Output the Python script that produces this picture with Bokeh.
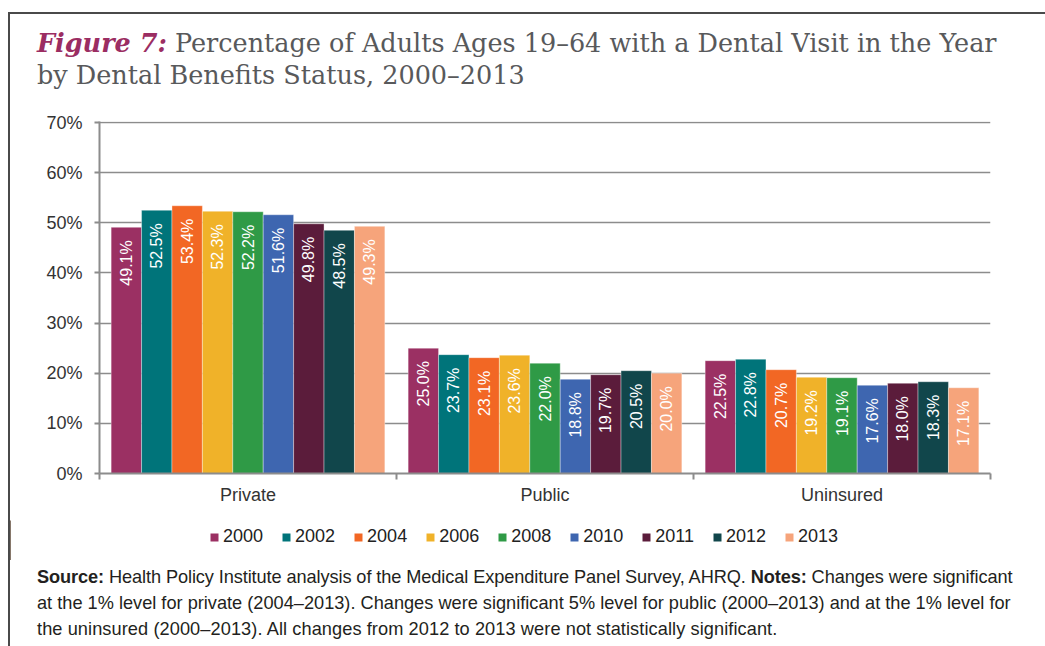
import numpy as np
from bokeh.plotting import figure
from bokeh.layouts import column, row
from bokeh.models import (ColumnDataSource, FixedTicker, PrintfTickFormatter,
                          Legend, LegendItem, Div)
from bokeh.core.properties import value
from bokeh.embed import file_html
from bokeh.resources import INLINE

# --- data -------------------------------------------------------------
categories = ["Private", "Public", "Uninsured"]
years = ["2000", "2002", "2004", "2006", "2008", "2010", "2011", "2012", "2013"]
private = [49.1, 52.5, 53.4, 52.3, 52.2, 51.6, 49.8, 48.5, 49.3]
public = [25.0, 23.7, 23.1, 23.6, 22.0, 18.8, 19.7, 20.5, 20.0]
uninsured = [22.5, 22.8, 20.7, 19.2, 19.1, 17.6, 18.0, 18.3, 17.1]
colors = ["#9B3063", "#00747A", "#F26724", "#F0B229", "#2F9A46",
          "#3E66B0", "#5B1C3B", "#11464B", "#F6A47B"]
y_ticks = [0, 10, 20, 30, 40, 50, 60, 70]

title_lead = "Figure 7:"
title_line1 = "Percentage of Adults Ages 19\u201364 with a Dental Visit in the Year"
title_line2 = "by Dental Benefits Status, 2000\u20132013"

# --- layout constants --------------------------------------------------
W = 1045
TITLE_H, FIG_H, KEY_H, NOTE_H = 110, 410, 40, 86
GUTTER = 10                      # strip on the left that carries the frame line
FIG_W = W - GUTTER
SANS = "Liberation Sans"
SERIF = "DejaVu Serif"
GRAY = "#8c8c8c"
RULE = "2px solid #4a4a4a"

# --- chart -------------------------------------------------------------
p = figure(width=FIG_W, height=FIG_H, x_range=(-0.5, 2.5), y_range=(0, 70.2),
           output_backend="svg", toolbar_location=None, title=None,
           min_border_left=89, min_border_right=55,
           min_border_top=11, min_border_bottom=47)
p.outline_line_color = None
p.background_fill_color = "white"
p.border_fill_color = "white"

xax = p.xaxis[0]
xax.ticker = FixedTicker(ticks=[0, 1, 2], minor_ticks=[-0.5, 0.5, 1.5, 2.5])
xax.major_label_overrides = {i: c for i, c in enumerate(categories)}
xax.major_tick_out = 0
xax.major_tick_in = 0
xax.minor_tick_out = 6
xax.minor_tick_in = 0
xax.minor_tick_line_color = GRAY
xax.minor_tick_line_width = 2
xax.axis_line_color = GRAY
xax.axis_line_width = 2
xax.major_label_standoff = 5
xax.major_label_text_font = SANS
xax.major_label_text_font_size = "18px"
xax.major_label_text_color = "#333333"

yticker = FixedTicker(ticks=y_ticks)
yax = p.yaxis[0]
yax.ticker = yticker
yax.formatter = PrintfTickFormatter(format="%d%%")
yax.major_tick_out = 5
yax.major_tick_in = 0
yax.major_tick_line_color = GRAY
yax.major_tick_line_width = 2
yax.minor_tick_line_color = None
yax.axis_line_color = GRAY
yax.axis_line_width = 2
yax.major_label_standoff = 12
yax.major_label_text_font = SANS
yax.major_label_text_font_size = "18px"
yax.major_label_text_color = "#333333"

p.xgrid.visible = False
p.ygrid.ticker = yticker
p.ygrid.grid_line_color = GRAY
p.ygrid.grid_line_width = 1.5

# one bar renderer per year, dodged inside each category
bar_w = 0.1024
bar_style = dict(line_color="white", line_width=0.6, line_alpha=0.6)
for i, (yr, col) in enumerate(zip(years, colors)):
    vals = [private[i], public[i], uninsured[i]]
    src = ColumnDataSource(dict(
        x=[c + (i - 4) * bar_w for c in range(len(categories))],
        top=vals,
        label=[f"{v:.1f}%" for v in vals],
    ))
    p.vbar(x="x", top="top", bottom=0, width=bar_w, source=src,
           fill_color=col, **bar_style)
    p.text(x="x", y="top", text="label", source=src, angle=np.pi / 2,
           text_align="right", text_baseline="middle", y_offset=13,
           text_color="white", text_font=value(SANS),
           text_font_size="16px")

# --- key (its own strip under the chart) -------------------------------
# swatch renderers sit outside the strip's visible range; only their
# legend glyphs show
key = figure(width=FIG_W, height=KEY_H, x_range=(0, 1), y_range=(0, 1),
             output_backend="svg", toolbar_location=None, title=None,
             x_axis_type=None, y_axis_type=None, min_border=0)
key.outline_line_color = None
key.grid.visible = False
key.border_fill_color = "white"
key.background_fill_color = "white"
items = []
for yr, col in zip(years, colors):
    r = key.vbar(x=[-5], top=[1], bottom=0, width=0.1, fill_color=col,
                 line_color=None)
    items.append(LegendItem(label=yr, renderers=[r]))
legend = Legend(items=items, orientation="horizontal", location=(194, 8),
                glyph_width=10, glyph_height=10, label_standoff=4,
                spacing=18, padding=5, margin=0,
                label_text_font=SANS, label_text_font_size="18px",
                label_text_color="#222222",
                border_line_alpha=0, background_fill_alpha=0)
key.add_layout(legend)

# --- title and notes ---------------------------------------------------
title_html = f"""
<div style="position:relative;width:{W}px;height:{TITLE_H}px;overflow:hidden;background:white;">
  <div style="position:absolute;left:8px;top:12px;width:{W}px;height:{TITLE_H}px;
              border-top:{RULE};border-left:{RULE};"></div>
  <div style="position:absolute;left:37px;top:27px;white-space:nowrap;
              font-family:'{SERIF}';font-size:25.5px;line-height:32px;color:#58595B;">
    <span style="color:#9B2D62;font-weight:bold;font-style:italic;">{title_lead}</span>
    {title_line1}<br>{title_line2}
  </div>
</div>"""

note_lines = [
    ("-0.1px", "<b>Source:</b> Health Policy Institute analysis of the Medical "
     "Expenditure Panel Survey, AHRQ. <b>Notes:</b> Changes were significant"),
    ("0px", "at the 1% level for private (2004\u20132013). Changes were "
     "significant 5% level for public (2000\u20132013) and at the 1% level for"),
    ("0.08px", "the uninsured (2000\u20132013). All changes from 2012 to 2013 "
     "were not statistically significant."),
]
notes_body = "".join(f'<div style="letter-spacing:{ls};">{txt}</div>'
                     for ls, txt in note_lines)
notes_html = f"""
<div style="position:relative;width:{W}px;height:{NOTE_H}px;overflow:hidden;background:white;">
  <div style="position:absolute;left:8px;top:0;width:0;height:{NOTE_H}px;border-left:{RULE};"></div>
  <div style="position:absolute;left:37px;top:4px;white-space:nowrap;
              font-family:'{SANS}';font-size:18.2px;line-height:26px;color:#231F20;">
    {notes_body}
  </div>
</div>"""


def gutter(h):
    html = f"""
<div style="position:relative;width:{GUTTER}px;height:{h}px;background:white;">
  <div style="position:absolute;left:8px;top:0;width:0;height:{h}px;border-left:{RULE};"></div>
</div>"""
    return Div(text=html, width=GUTTER, height=h, margin=0)


title_div = Div(text=title_html, width=W, height=TITLE_H, margin=0)
notes_div = Div(text=notes_html, width=W, height=NOTE_H, margin=0)

page = column(title_div,
              row(gutter(FIG_H), p, spacing=0),
              row(gutter(KEY_H), key, spacing=0),
              notes_div, spacing=0)

open("out.html", "w").write(file_html(page, INLINE))
